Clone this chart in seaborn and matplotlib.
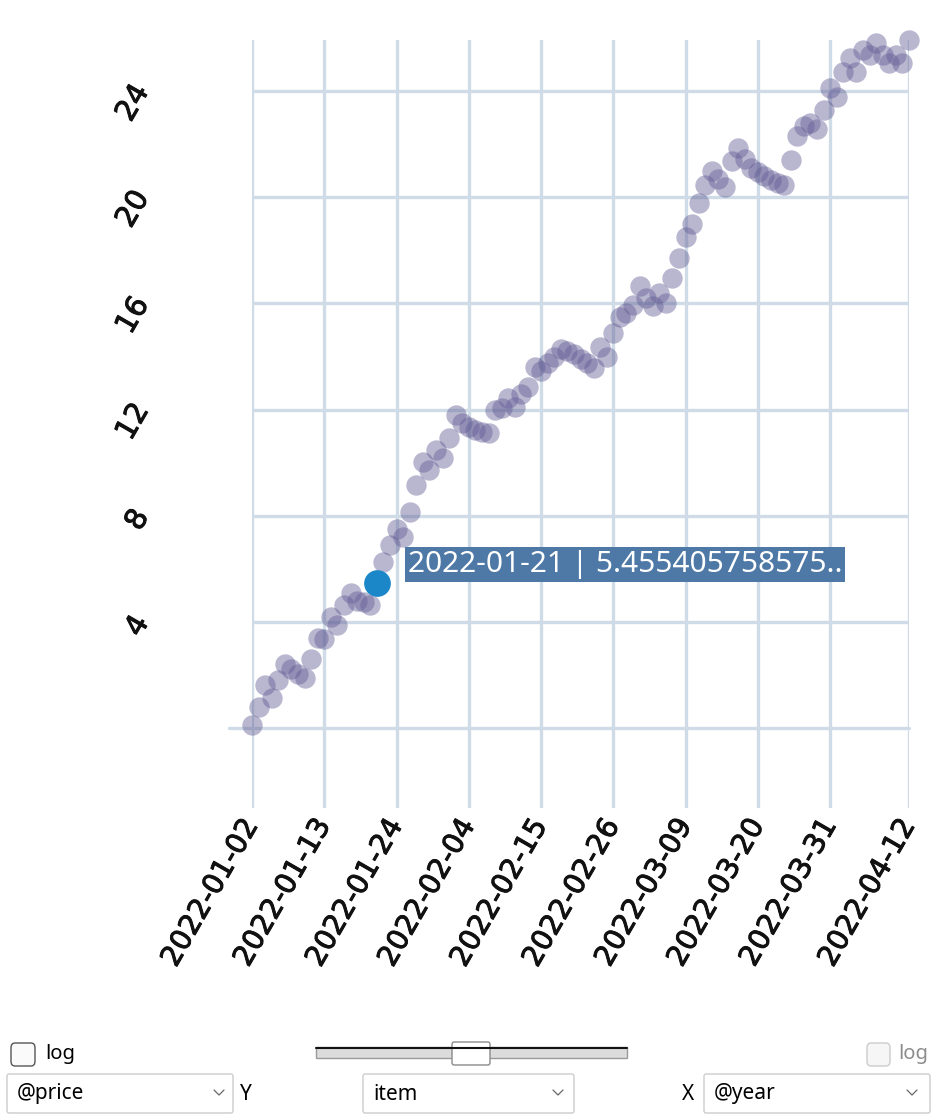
import numpy as np
import pandas as pd
import matplotlib
matplotlib.use("Agg")
import matplotlib.pyplot as plt
import matplotlib.patheffects as pe
import seaborn as sns
from matplotlib.patches import FancyBboxPatch, Rectangle
from matplotlib.lines import Line2D

# ---------------- data ----------------
start_date = "2022-01-02"
prices = [
    0.12, 0.81, 1.63, 1.13, 1.82, 2.44, 2.25, 2.05, 1.90, 2.60,
    3.40, 3.35, 4.20, 3.90, 4.65, 5.10, 4.80, 4.75, 4.65, 5.455405758575,
    6.27, 6.90, 7.50, 7.20, 8.15, 9.16, 10.04, 9.73, 10.48, 10.17,
    10.92, 11.80, 11.48, 11.36, 11.25, 11.15, 11.13, 12.00, 12.05, 12.45,
    12.10, 12.60, 12.85, 13.60, 13.45, 13.75, 14.00, 14.30, 14.20, 14.10,
    13.90, 13.75, 13.55, 14.37, 14.00, 14.87, 15.50, 15.65, 15.95, 16.64,
    16.20, 15.90, 16.40, 16.00, 16.95, 17.70, 18.50, 19.00, 19.77, 20.46,
    21.00, 20.70, 20.40, 21.35, 21.85, 21.45, 21.10, 20.95, 20.78, 20.65,
    20.52, 20.46, 21.40, 22.30, 22.70, 22.80, 22.55, 23.28, 24.10, 23.78,
    24.73, 25.23, 24.73, 25.54, 25.36, 25.80, 25.36, 25.04, 25.36, 25.04,
    25.92,
]
x_tick_labels = ["2022-01-02", "2022-01-13", "2022-01-24", "2022-02-04",
                 "2022-02-15", "2022-02-26", "2022-03-09", "2022-03-20",
                 "2022-03-31", "2022-04-12"]
y_ticks = [4, 8, 12, 16, 20, 24]
baseline_value = 0
highlight_date = "2022-01-21"
highlight_value = 5.455405758575
y_limits = (-3.0, 25.92)

dates = pd.date_range(start_date, periods=len(prices), freq="D")
df = pd.DataFrame({"year": dates, "price": prices})
hl = pd.DataFrame({"year": [pd.Timestamp(highlight_date)], "price": [highlight_value]})

# ---------------- figure ----------------
W, H = 937, 1119
sns.set_theme(style="white")
plt.rcParams["font.family"] = ["DejaVu Sans"]
fig = plt.figure(figsize=(W / 100, H / 100), dpi=100)

def fx(x):
    return x / W

def fy(y):
    return 1 - y / H

ax = fig.add_axes([fx(252), fy(808), fx(909) - fx(252), fy(40) - fy(808)])

grid_color = "#cfdbe6"
point_color = "#645f96"

sns.scatterplot(data=df, x="year", y="price", ax=ax, s=215, color=point_color,
                alpha=0.45, linewidth=0, clip_on=False, zorder=3, legend=False)
sns.scatterplot(data=hl, x="year", y="price", ax=ax, s=370, color="#1b87c9",
                alpha=1.0, linewidth=0, clip_on=False, zorder=4, legend=False)

ax.set_xlim(dates[0], dates[-1])
ax.set_ylim(*y_limits)
ax.set_xticks(pd.to_datetime(x_tick_labels))
ax.set_xticklabels(x_tick_labels)
ax.set_yticks(y_ticks)
ax.set_yticklabels([str(v) for v in y_ticks])
ax.set_xlabel("")
ax.set_ylabel("")
for s in ax.spines.values():
    s.set_visible(False)
ax.grid(True, color=grid_color, linewidth=2.4, zorder=0)
ax.set_axisbelow(True)
ax.axhline(baseline_value, xmin=-0.035, xmax=1, color=grid_color, linewidth=2.4,
           zorder=0.5, clip_on=False)

stroke = [pe.withStroke(linewidth=0.7, foreground="#111111")]
ax.tick_params(axis="y", direction="out", length=57, width=2.4, color=grid_color,
               pad=17, labelsize=21, labelcolor="#111111")
ax.tick_params(axis="x", length=0, pad=9, labelsize=20.5, labelcolor="#111111")
for lab in ax.get_yticklabels():
    lab.set_rotation(60)
    lab.set_ha("right")
    lab.set_va("baseline")
    lab.set_rotation_mode("anchor")
    lab.set_path_effects(stroke)
for lab in ax.get_xticklabels():
    lab.set_rotation(60)
    lab.set_ha("right")
    lab.set_va("center")
    lab.set_rotation_mode("anchor")
    lab.set_path_effects(stroke)

# tooltip
tip_text = f"{highlight_date} | {str(highlight_value)[:14]}.."
ax.annotate(tip_text, xy=(pd.Timestamp(highlight_date), highlight_value),
            xytext=(31, 19), textcoords="offset pixels", ha="left", va="center",
            fontsize=21.5, color="white", family=["Noto Sans", "DejaVu Sans"],
            bbox=dict(boxstyle="square,pad=0.1", fc="#4e79a6", ec="none"),
            zorder=6, annotation_clip=False)

# ---------------- bottom controls ----------------
ui_font = ["Noto Sans", "DejaVu Sans"]

def box(x0, y0, x1, y1, fc, ec, r=3, lw=1.0):
    p = FancyBboxPatch((fx(x0), fy(y1)), fx(x1) - fx(x0), fy(y0) - fy(y1),
                       boxstyle=f"round,pad=0,rounding_size={r / W}",
                       transform=fig.transFigure, fc=fc, ec=ec, lw=lw)
    fig.patches.append(p)

def label(x, y, s, color="#000000", size=14.5):
    fig.text(fx(x), fy(y), s, ha="left", va="center", fontsize=size,
             color=color, family=ui_font)

def chevron(xc, yc, color="#666666"):
    xs = [fx(xc - 5), fx(xc), fx(xc + 5)]
    ys = [fy(yc - 3), fy(yc + 2), fy(yc - 3)]
    fig.lines.append(Line2D(xs, ys, transform=fig.transFigure, color=color, lw=0.9))

# left checkbox
box(11, 1043, 35, 1066, "#fafafa", "#555555", r=4)
label(45, 1054, "log")
# slider
fig.patches.append(Rectangle((fx(316), fy(1058)), fx(627) - fx(316), fy(1047) - fy(1058),
                             transform=fig.transFigure, fc="#dcdcdc", ec="#9a9a9a", lw=1))
fig.lines.append(Line2D([fx(316), fx(627)], [fy(1047.5), fy(1047.5)],
                        transform=fig.transFigure, color="#111111", lw=1.5))
box(452, 1042, 490, 1065, "#ffffff", "#8a8a8a", r=2)
# right checkbox (disabled)
box(867, 1043, 890, 1066, "#f6f6f6", "#cccccc", r=4)
label(898, 1054, "log", color="#8c8c8c")
# dropdowns
box(7, 1074, 233, 1113, "#ffffff", "#cccccc", r=2)
label(17, 1094, "@price", size=15)
chevron(219, 1093)
label(240, 1094, "Y", size=15)
box(363, 1074, 574, 1113, "#ffffff", "#cccccc", r=2)
label(373, 1094, "item", size=15)
chevron(558, 1093)
label(682, 1094, "X", size=15)
box(704, 1074, 930, 1113, "#ffffff", "#cccccc", r=2)
label(714, 1094, "@year", size=15)
chevron(912, 1093)

fig.savefig("out.png", dpi=100)
